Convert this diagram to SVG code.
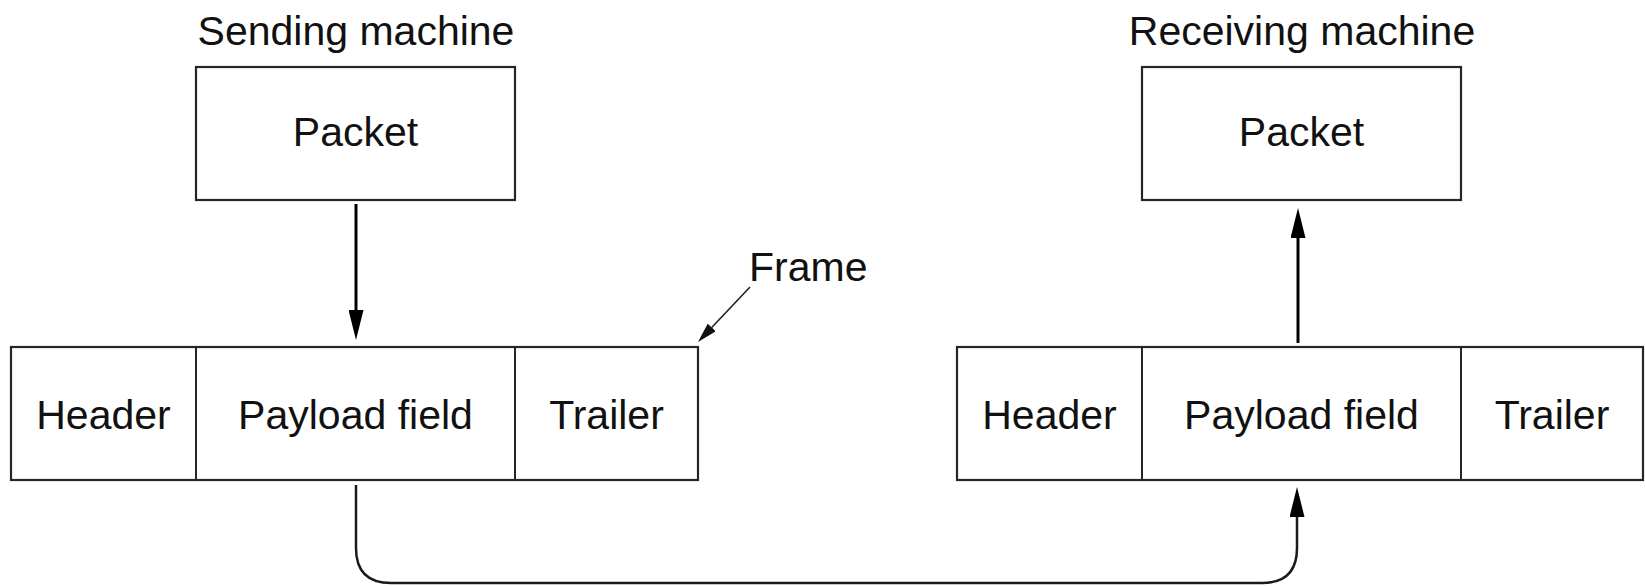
<svg xmlns="http://www.w3.org/2000/svg" width="1645" height="586" viewBox="0 0 1645 586">
  <style>
    .t { font-family: "Liberation Sans", Arial, sans-serif; font-size: 41px; fill: #111; text-anchor: middle; }
    .box { fill: #fff; stroke: #262626; stroke-width: 2.2; }
    .div { stroke: #262626; stroke-width: 2; fill: none; }
    .arr { stroke: #000; stroke-width: 3; fill: none; }
    .conn { stroke: #1a1a1a; stroke-width: 2.5; fill: none; }
    .thin { stroke: #222; stroke-width: 1.6; fill: none; }
  </style>
  <defs>
    <marker id="head" markerUnits="userSpaceOnUse" viewBox="0 0 30 15" refX="0" refY="7.5" markerWidth="30" markerHeight="15" orient="auto">
      <path d="M0,0 L30,7.5 L0,15 Z" fill="#000"/>
    </marker>
    <marker id="headSmall" markerUnits="userSpaceOnUse" viewBox="0 0 20 11" refX="0" refY="5.5" markerWidth="20" markerHeight="11" orient="auto">
      <path d="M0,0 L20,5.5 L0,11 Z" fill="#111"/>
    </marker>
  </defs>
  <rect width="1645" height="586" fill="#fff"/>

  <g id="label-sending">
    <text class="t" x="356" y="45">Sending machine</text>
  </g>
  <g id="packet-send">
    <rect class="box" x="196" y="67" width="319" height="133"/>
    <text class="t" x="355.5" y="146">Packet</text>
  </g>

  <g id="label-receiving">
    <text class="t" x="1302" y="45">Receiving machine</text>
  </g>
  <g id="packet-recv">
    <rect class="box" x="1142" y="67" width="319" height="133"/>
    <text class="t" x="1301.5" y="146">Packet</text>
  </g>

  <g id="frame-label">
    <text class="t" x="749" y="281" text-anchor="start" style="text-anchor:start">Frame</text>
  </g>

  <g id="frame-send">
    <rect class="box" x="11" y="347" width="687" height="133"/>
    <line class="div" x1="196" y1="347" x2="196" y2="480"/>
    <line class="div" x1="515" y1="347" x2="515" y2="480"/>
    <text class="t" x="103.5" y="429">Header</text>
    <text class="t" x="355.5" y="429">Payload field</text>
    <text class="t" x="606.5" y="429">Trailer</text>
  </g>

  <g id="frame-recv">
    <rect class="box" x="957" y="347" width="686" height="133"/>
    <line class="div" x1="1142" y1="347" x2="1142" y2="480"/>
    <line class="div" x1="1461" y1="347" x2="1461" y2="480"/>
    <text class="t" x="1049.5" y="429">Header</text>
    <text class="t" x="1301.5" y="429">Payload field</text>
    <text class="t" x="1552" y="429">Trailer</text>
  </g>

  <g id="connectors">
    <line class="arr" x1="356" y1="204" x2="356" y2="310" marker-end="url(#head)"/>
    <line class="arr" x1="1298" y1="343" x2="1298" y2="238" marker-end="url(#head)"/>
    <line class="thin" x1="750" y1="287" x2="711.7" y2="327.5" marker-end="url(#headSmall)"/>
    <path class="conn" d="M356,485 V548 Q356,583 391,583 H1262 Q1297,583 1297,548 V517" marker-end="url(#head)"/>
  </g>
</svg>
